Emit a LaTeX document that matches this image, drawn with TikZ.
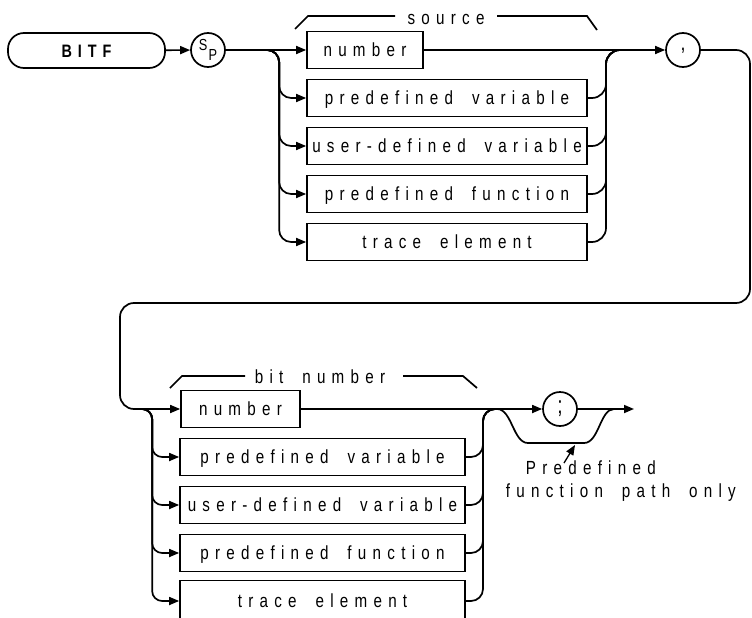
\documentclass[tikz,border=0pt]{standalone}
\usepackage{fontspec}
\setmainfont{Liberation Sans}[FakeStretch=0.8,LetterSpace=33,WordSpace=1.8]
\usetikzlibrary{arrows.meta}
\begin{document}
\begin{tikzpicture}[x=1pt,y=-1pt,line width=1.7pt,
  txt/.style={font=\fontsize{19}{21}\selectfont},
  box/.style={draw,rectangle,txt,minimum height=37pt,inner sep=0pt,text height=13.5pt,text depth=0pt},
  circ/.style={draw,circle,minimum size=34pt,inner sep=0pt},
  arr/.style={-{Triangle[length=10pt,width=8pt]}},
  lbl/.style={txt,inner sep=0pt}]
\clip (0,0) rectangle (752,618);
% top row
\node[box,rounded corners=16pt,minimum width=157pt,minimum height=35pt,font=\fontsize{18}{20}\selectfont\bfseries] (bitf) at (86.5,50.5) {BITF};
\node[circ] (sp) at (208,50) {\fontsize{16}{16}\selectfont\addfontfeatures{LetterSpace=0}\raisebox{4pt}{S}\hspace{1pt}\raisebox{-6pt}{P}};
\node[box,minimum width=116pt] (n1) at (365,50) {number};
\node[box,minimum width=280pt] (pv1) at (447,98) {predefined variable};
\node[box,minimum width=280pt] (ud1) at (447,146) {user-defined variable};
\node[box,minimum width=280pt] (pf1) at (447,194) {predefined function};
\node[box,minimum width=280pt] (te1) at (447,242) {trace element};
\node[circ,font=\fontsize{22}{22}\selectfont] (comma) at (683,50) {\raisebox{-3pt}{,}};
\node[lbl,anchor=base] (src) at (446,25) {source};
\draw (295,29) -- (308,16) -- (395,16);
\draw (497,16) -- (587,16) -- (597,30);
% bottom row
\node[box,minimum width=119pt] (n2) at (240.5,409) {number};
\node[box,minimum width=285pt] (pv2) at (322.5,457) {predefined variable};
\node[box,minimum width=285pt] (ud2) at (322.5,505) {user-defined variable};
\node[box,minimum width=285pt] (pf2) at (322.5,553) {predefined function};
\node[box,minimum width=285pt,minimum height=41pt] (te2) at (322.5,601) {trace element};
\node[circ,font=\fontsize{24}{24}\selectfont] (semi) at (560,409) {;};
\node[lbl,anchor=base] (bn) at (320,383) {bit number};
\draw (170,388) -- (182,376) -- (245,376);
\draw (403,376) -- (463,376) -- (477,388);
\node[lbl,anchor=base west] (pd) at (525,474) {Predefined};
\node[lbl,anchor=base west] (fp) at (505,497) {function path only};
% coordinates
\coordinate (b1) at (266,50);
\coordinate (rv1) at (606,50);
\coordinate (j1) at (624,50);
\coordinate (c1) at (750,303);
\coordinate (c2) at (120,409);
\coordinate (b2) at (139,409);
\coordinate (rv2) at (483,409);
\coordinate (j2) at (500,409);
\coordinate (out) at (634,409);
\coordinate (bys) at (497,409);
\coordinate (bye) at (614,409);
\coordinate (at) at (564,463);
\coordinate (ah) at (575,445);
% connectors top
\draw[arr] (bitf) -- (sp);
\draw[arr] (sp) -- (n1);
\foreach \n in {pv1,ud1,pf1,te1}
  \draw[arr,rounded corners=12pt] (b1) -| ([xshift=-27pt]\n.west) -- (\n.west);
\foreach \n in {pv1,ud1,pf1,te1}
  \draw[rounded corners=14pt] (\n.east) -| (rv1) -- (j1);
\draw[arr] (n1) -- (comma);
\draw[arr,rounded corners=14pt] (comma) -| (c1) -| (c2) -- (n2);
% connectors bottom
\foreach \n in {pv2,ud2,pf2,te2}
  \draw[arr,rounded corners=10pt] (b2) -| ([xshift=-27pt]\n.west) -- (\n.west);
\foreach \n in {pv2,ud2,pf2,te2}
  \draw[rounded corners=12pt] (\n.east) -| (rv2) -- (j2);
\draw[arr] (n2) -- (semi);
\draw[arr] (semi) -- (out);
\draw (bys) .. controls (512,409) and (513,443) .. (528,443) -- (584,443) .. controls (599,443) and (600,409) .. (bye);
\draw[arr,line width=1.3pt] (at) -- (ah);
\end{tikzpicture}
\end{document}
